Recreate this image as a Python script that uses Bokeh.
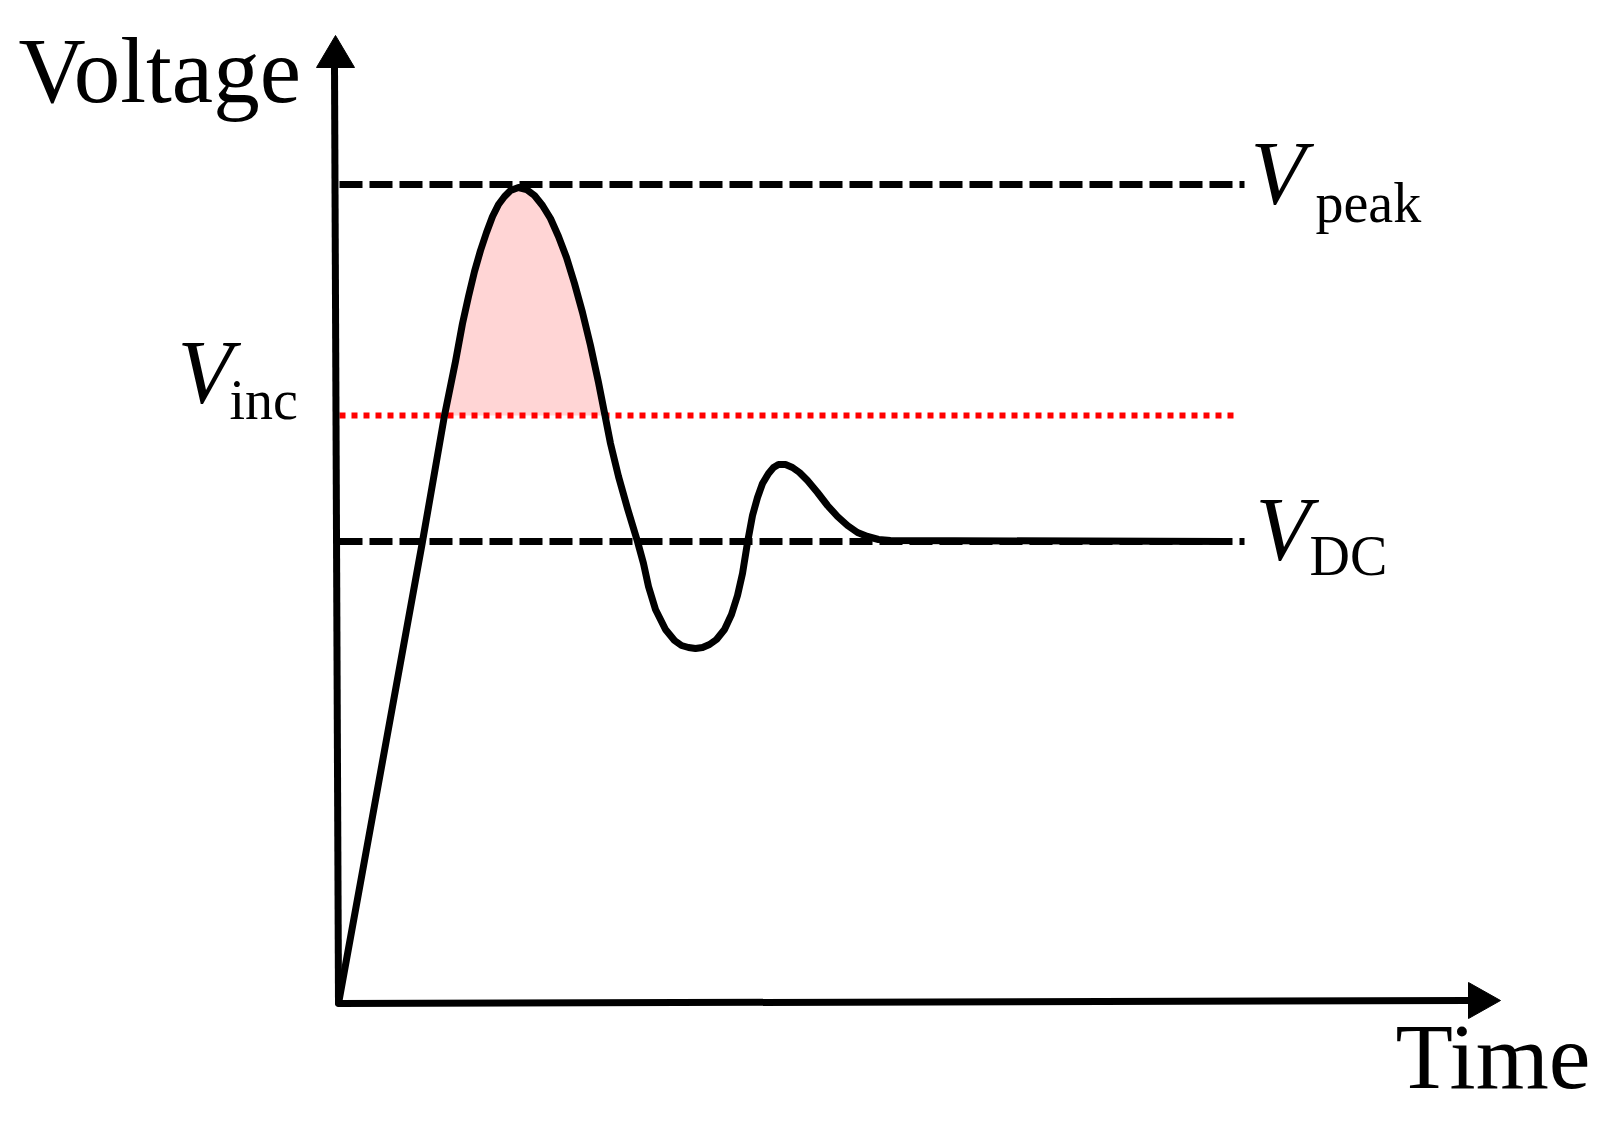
import numpy as np
from bokeh.plotting import figure
from bokeh.models import Range1d
from bokeh.core.properties import value
from bokeh.embed import file_html
from bokeh.resources import INLINE

# ---- data (time, voltage in arbitrary units) ----
curve_t = [0.00, 0.84, 1.06, 1.17, 1.24, 1.30, 1.36, 1.42, 1.48, 1.54, 1.60, 1.66,
           1.72, 1.80, 1.88, 1.96, 2.04, 2.12, 2.20, 2.28, 2.36, 2.44, 2.52, 2.60,
           2.665, 2.72, 2.80, 2.89, 2.99, 3.05, 3.10, 3.17, 3.27, 3.36, 3.43, 3.50,
           3.57, 3.64, 3.71, 3.78, 3.86, 3.93, 3.99, 4.04, 4.09, 4.14, 4.19, 4.24,
           4.30, 4.35, 4.40, 4.47, 4.54, 4.61, 4.69, 4.79, 4.89, 4.99, 5.09, 5.19,
           5.29, 5.40, 5.52, 8.89]
curve_v = [0.00, 4.62, 5.88, 6.42, 6.80, 7.07, 7.32, 7.53, 7.71, 7.87, 7.99, 8.07,
           8.13, 8.16, 8.14, 8.08, 7.98, 7.85, 7.67, 7.46, 7.20, 6.91, 6.58, 6.21,
           5.88, 5.60, 5.27, 4.95, 4.62, 4.40, 4.17, 3.94, 3.74, 3.63, 3.58, 3.56,
           3.55, 3.56, 3.59, 3.64, 3.74, 3.89, 4.08, 4.30, 4.61, 4.88, 5.06, 5.20,
           5.30, 5.36, 5.39, 5.39, 5.36, 5.31, 5.23, 5.11, 4.98, 4.87, 4.78, 4.71,
           4.67, 4.64, 4.63, 4.62]

level_names = ["peak", "inc", "DC"]
level_values = [8.19, 5.88, 4.62]
level_end = [9.06, 9.00, 9.06]

x_label = "Time"
y_label = "Voltage"

# ---- figure ----
p = figure(width=1604, height=1121, output_backend="svg", toolbar_location=None,
           x_range=Range1d(-3.38, 12.66), y_range=Range1d(-1.18, 10.03),
           x_axis_location=None, y_axis_location=None, min_border=0)
p.grid.visible = False
p.outline_line_color = None
p.background_fill_color = "white"
p.border_fill_color = "white"

V_peak, V_inc, V_dc = level_values
LW = 7

# pink fill: region of curve above V_inc (first excursion)
t = np.array(curve_t)
v = np.array(curve_v)
ft, fv = [], []
for i in range(len(t) - 1):
    if t[i] > 3.0:
        break
    a, b = v[i] - V_inc, v[i + 1] - V_inc
    if a >= 0:
        ft.append(t[i]); fv.append(v[i])
    if (a < 0 <= b) or (a >= 0 > b):
        if a != b:
            tc = t[i] + (t[i + 1] - t[i]) * (-a) / (b - a)
            ft.append(tc); fv.append(V_inc)
p.patch(ft, fv, fill_color="#ffd5d5", line_color=None)

# horizontal reference lines
p.line([0.01, level_end[0]], [V_peak, V_peak], line_color="black", line_width=LW,
       line_dash="23 7")
p.line([0.01, level_end[2]], [V_dc, V_dc], line_color="black", line_width=LW,
       line_dash="23 7")
p.line([0.01, level_end[1]], [V_inc, V_inc], line_color="#ff0000", line_width=6,
       line_dash="6 6")

# axes
p.line([0.0, -0.04], [0.0, 9.36], line_color="black", line_width=LW)
p.patch([-0.22, 0.16, -0.03], [9.36, 9.36, 9.68], fill_color="black", line_color="black", line_width=1)
p.line([0.0, 11.30], [0.0, 0.03], line_color="black", line_width=LW)
p.patch([11.30, 11.30, 11.62], [0.21, -0.15, 0.03], fill_color="black", line_color="black", line_width=1)

# signal curve
p.line(curve_t, curve_v, line_color="black", line_width=LW, line_join="round", line_cap="round")

serif = value("Liberation Serif")

# axis labels
p.text(x=[-3.20], y=[9.33], text=[y_label], text_font=serif, text_font_size="93px",
       text_color="black", text_baseline="alphabetic", text_align="left")
p.text(x=[10.57], y=[-0.52], text=[x_label], text_font=serif, text_font_size="94px",
       text_color="black", text_baseline="alphabetic", text_align="left")

# level labels: V with subscripts
vx = [9.12, -1.61, 9.17]
vy = [V_peak + 0.11, V_inc + 0.43, V_dc + 0.12]
sx = [9.77, -1.09, 9.71]
sy = [V_peak - 0.18, V_inc + 0.16, V_dc - 0.14]
p.text(x=vx, y=vy, text=["V", "V", "V"], text_font=serif, text_font_size="90px",
       text_font_style="italic", text_color="black", text_baseline="alphabetic",
       text_align="left")
p.text(x=sx, y=sy, text=level_names, text_font=serif, text_font_size="56px",
       text_color="black", text_baseline="alphabetic", text_align="left")

open("out.html", "w").write(file_html(p, INLINE))
